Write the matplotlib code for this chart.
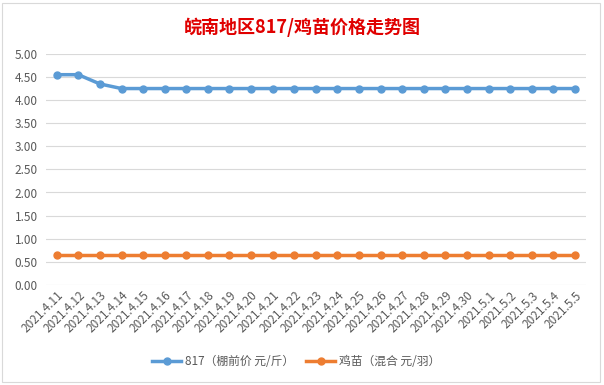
import matplotlib
matplotlib.use('Agg')
from matplotlib import pyplot as plt
from matplotlib.patches import Rectangle

plt.rcParams['font.family'] = ['Noto Sans CJK SC', 'DejaVu Sans']

dates = ['2021.4.11', '2021.4.12', '2021.4.13', '2021.4.14', '2021.4.15', '2021.4.16',
         '2021.4.17', '2021.4.18', '2021.4.19', '2021.4.20', '2021.4.21', '2021.4.22',
         '2021.4.23', '2021.4.24', '2021.4.25', '2021.4.26', '2021.4.27', '2021.4.28',
         '2021.4.29', '2021.4.30', '2021.5.1', '2021.5.2', '2021.5.3', '2021.5.4', '2021.5.5']
price_817 = [4.55, 4.55, 4.35, 4.25, 4.25, 4.25, 4.25, 4.25, 4.25, 4.25, 4.25, 4.25,
             4.25, 4.25, 4.25, 4.25, 4.25, 4.25, 4.25, 4.25, 4.25, 4.25, 4.25, 4.25, 4.25]
price_chick = [0.65] * 25

fig = plt.figure(figsize=(6.04, 3.85), dpi=100)
ax = fig.add_axes([0.076, 0.260, 0.894, 0.600])

# chart frame
fig.patches.append(Rectangle((0.004, 0.008), 0.99, 0.985, transform=fig.transFigure,
                             fill=False, edgecolor='#D9D9D9', linewidth=0.8))

x = list(range(len(dates)))
ax.plot(x, price_817, color='#5B9BD5', linewidth=2.5, marker='o', markersize=5,
        label='817（棚前价 元/斤）', zorder=3)
ax.plot(x, price_chick, color='#ED7D31', linewidth=2.5, marker='o', markersize=5,
        label='鸡苗（混合 元/羽）', zorder=3)

ax.set_xlim(-0.5, len(dates) - 0.5)
ax.set_ylim(0, 5)
ax.set_yticks([i * 0.5 for i in range(11)])
ax.set_yticklabels([f'{i * 0.5:.2f}' for i in range(11)])
ax.set_xticks(x)
ax.set_xticklabels(dates, rotation=45, ha='right', rotation_mode='anchor')

ax.grid(axis='y', color='#D9D9D9', linewidth=0.8)
ax.set_axisbelow(True)
for s in ax.spines.values():
    s.set_visible(False)
ax.tick_params(axis='both', length=0, colors='#595959', labelsize=8.5)
ax.tick_params(axis='y', pad=6)
ax.tick_params(axis='x', pad=3)

fig.text(0.5, 0.93, '皖南地区817/鸡苗价格走势图', color='#E00000', fontsize=13,
         fontweight='bold', ha='center', va='center')

fig.legend(loc='center', bbox_to_anchor=(0.49, 0.06), ncol=2, frameon=False,
           fontsize=8.5, labelcolor='#595959', handlelength=2.5, columnspacing=1.0,
           handletextpad=0.3)

plt.savefig('out.png', dpi=100)
